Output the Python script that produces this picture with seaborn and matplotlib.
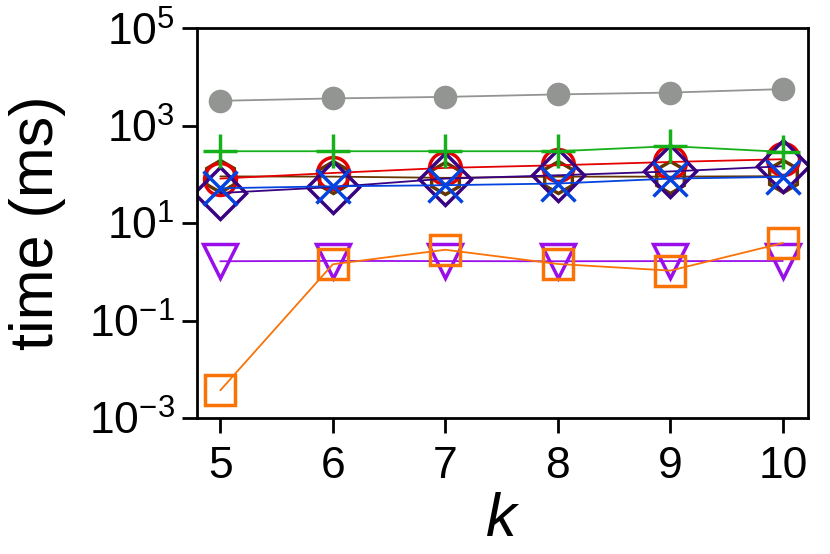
import numpy as np
import pandas as pd
import seaborn as sns
import matplotlib
matplotlib.use("Agg")
import matplotlib.pyplot as plt

# data
k = [5, 6, 7, 8, 9, 10]
gray_t = [3240, 3630, 3900, 4390, 4780, 5640]
green_t = [299, 299, 299, 299, 380, 290]
red_t = [82, 107, 136, 154, 180, 205]
brown_t = [91, 90, 85, 90, 90, 92]
indigo_t = [41.5, 55, 82, 96, 115, 147]
blue_t = [52, 57, 60, 65, 82, 89]
violet_t = [1.65, 1.68, 1.66, 1.65, 1.66, 1.67]
orange_t = [0.0037, 1.43, 2.84, 1.45, 1.06, 3.9]

sns.set_style("ticks")
plt.rcParams['font.family'] = ['Liberation Sans', 'DejaVu Sans']
plt.rcParams['mathtext.fontset'] = 'custom'
plt.rcParams['mathtext.rm'] = 'Liberation Sans'
plt.rcParams['mathtext.it'] = 'Liberation Sans:italic'
for key in ['text.color', 'axes.labelcolor', 'xtick.color', 'ytick.color', 'axes.edgecolor']:
    plt.rcParams[key] = 'black'

fig = plt.figure(figsize=(8.3, 5.54), dpi=100)
ax = fig.add_axes([0.237, 0.2455, 0.736, 0.7035])

# (values, colour, marker, size, filled)
series = [
    (gray_t, '#929591', 'o', 17, True),
    (violet_t, '#9a0eea', 'v', 24, False),
    (orange_t, '#f97306', 's', 22, False),
    (brown_t, '#653700', 'h', 23, False),
    (red_t, '#e50000', 'o', 23, False),
    (indigo_t, '#380282', 'D', 26, False),
    (green_t, '#15b01a', '+', 24, False),
    (blue_t, '#0343df', 'x', 24, False),
]
for vals, col, mk, ms, filled in series:
    df = pd.DataFrame({'k': k, 't': vals})
    sns.lineplot(data=df, x='k', y='t', ax=ax, color=col, marker=mk,
                 markersize=ms, linewidth=1.3,
                 markerfacecolor=col if filled else 'none',
                 markeredgecolor=col, markeredgewidth=0 if filled else 2.5)

ax.set_yscale('log')
ax.set_ylim(1e-3, 1e5)
ax.set_yticks([1e-3, 1e-1, 1e1, 1e3, 1e5])
ax.minorticks_off()
ax.set_xlim(4.79, 10.22)
ax.set_xticks(k)
ax.tick_params(labelsize=32, length=11, width=2)
ax.tick_params(axis='x', pad=9)
ax.tick_params(axis='y', pad=5)
for s in ax.spines.values():
    s.set_linewidth(2)
ax.set_xlabel('$k$', fontsize=44, labelpad=4)
ax.set_ylabel('time (ms)', fontsize=44, labelpad=16)

fig.savefig('out.png', dpi=100)
